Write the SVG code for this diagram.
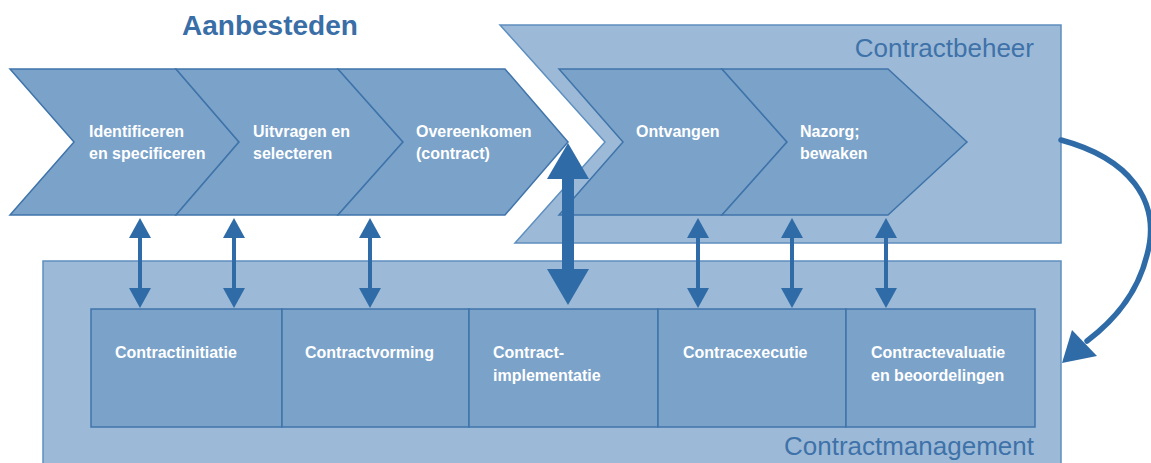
<svg xmlns="http://www.w3.org/2000/svg" width="1151" height="463" viewBox="0 0 1151 463">
  <style>
    .outer { fill: #9cbad8; stroke: #5f8fbf; stroke-width: 1.5; }
    .step { fill: #7ba2c9; stroke: #3f74aa; stroke-width: 1.5; stroke-linejoin: miter; }
    .lbl { font-family: "Liberation Sans", Arial, sans-serif; font-weight: bold; font-size: 16px; fill: #ffffff; }
    .area { font-family: "Liberation Sans", Arial, sans-serif; font-size: 26px; fill: #3f72a8; }
    .title { font-family: "Liberation Sans", Arial, sans-serif; font-weight: bold; font-size: 28px; fill: #3a6ea6; }
    .link { stroke: #2f6ca7; stroke-width: 4; fill: none; }
    .biglink { stroke: #2f6ca7; stroke-width: 12; fill: none; }
    .loop { stroke: #2f6ca7; stroke-width: 5.5; fill: none; stroke-linecap: round; }
  </style>
  <defs>
    <marker id="head" viewBox="0 0 20 22" markerWidth="20" markerHeight="22" refX="16" refY="11" orient="auto-start-reverse" markerUnits="userSpaceOnUse">
      <path d="M0,0 L20,11 L0,22 z" fill="#2f6ca7"/>
    </marker>
    <marker id="bighead" viewBox="0 0 36 42" markerWidth="36" markerHeight="42" refX="25" refY="21" orient="auto-start-reverse" markerUnits="userSpaceOnUse">
      <path d="M0,0 L36,21 L0,42 z" fill="#2f6ca7"/>
    </marker>
  </defs>

  <!-- lower band: contract management -->
  <g id="contractmanagement">
    <rect class="outer" x="43" y="261" width="1018" height="212"/>
    <text class="area" x="1034" y="455" text-anchor="end">Contractmanagement</text>
  </g>

  <!-- upper right band: contract administration -->
  <g id="contractbeheer">
    <polygon class="outer" points="500,25 1061,25 1061,243 515,243 605,142"/>
    <text class="area" x="1034" y="57" text-anchor="end">Contractbeheer</text>
  </g>

  <text class="title" x="182" y="35">Aanbesteden</text>

  <!-- process chevrons -->
  <g id="identificeren">
    <polygon class="step" points="10,69 176,69 239,142 176,215 10,215 74,142"/>
    <text class="lbl" x="89" y="137">Identificeren</text>
    <text class="lbl" x="89" y="159">en specificeren</text>
  </g>
  <g id="uitvragen">
    <polygon class="step" points="176,69 338,69 403,142 338,215 176,215 239,142"/>
    <text class="lbl" x="253" y="137">Uitvragen en</text>
    <text class="lbl" x="253" y="159">selecteren</text>
  </g>
  <g id="overeenkomen">
    <polygon class="step" points="338,69 505,69 568,142 505,215 338,215 403,142"/>
    <text class="lbl" x="416" y="137">Overeenkomen</text>
    <text class="lbl" x="416" y="159">(contract)</text>
  </g>
  <g id="ontvangen">
    <polygon class="step" points="559,69 722,69 787,142 722,215 559,215 623,142"/>
    <text class="lbl" x="636" y="137">Ontvangen</text>
  </g>
  <g id="nazorg">
    <polygon class="step" points="722,69 888,69 967,142 888,215 722,215 787,142"/>
    <text class="lbl" x="800" y="137">Nazorg;</text>
    <text class="lbl" x="800" y="159">bewaken</text>
  </g>

  <!-- management phases -->
  <g id="contractinitiatie">
    <rect class="step" x="91" y="309" width="191" height="118"/>
    <text class="lbl" x="115" y="358">Contractinitiatie</text>
  </g>
  <g id="contractvorming">
    <rect class="step" x="282" y="309" width="187" height="118"/>
    <text class="lbl" x="305" y="358">Contractvorming</text>
  </g>
  <g id="contractimplementatie">
    <rect class="step" x="469" y="309" width="189" height="118"/>
    <text class="lbl" x="493" y="358">Contract-</text>
    <text class="lbl" x="493" y="381">implementatie</text>
  </g>
  <g id="contracexecutie">
    <rect class="step" x="658" y="309" width="188" height="118"/>
    <text class="lbl" x="683" y="358">Contracexecutie</text>
  </g>
  <g id="contractevaluatie">
    <rect class="step" x="846" y="309" width="189" height="118"/>
    <text class="lbl" x="871" y="358">Contractevaluatie</text>
    <text class="lbl" x="871" y="381">en beoordelingen</text>
  </g>

  <!-- connectors -->
  <g id="connectors">
    <line class="link" x1="140" y1="222" x2="140" y2="304" marker-start="url(#head)" marker-end="url(#head)"/>
    <line class="link" x1="234" y1="222" x2="234" y2="304" marker-start="url(#head)" marker-end="url(#head)"/>
    <line class="link" x1="370" y1="222" x2="370" y2="304" marker-start="url(#head)" marker-end="url(#head)"/>
    <line class="link" x1="698" y1="222" x2="698" y2="304" marker-start="url(#head)" marker-end="url(#head)"/>
    <line class="link" x1="792" y1="222" x2="792" y2="304" marker-start="url(#head)" marker-end="url(#head)"/>
    <line class="link" x1="886" y1="222" x2="886" y2="304" marker-start="url(#head)" marker-end="url(#head)"/>
    <line class="biglink" x1="568" y1="154" x2="568" y2="294" marker-start="url(#bighead)" marker-end="url(#bighead)"/>
    <path class="loop" d="M1061,140 C1128,158 1162,200 1147,255 C1137,296 1112,322 1087,341"/>
    <polygon points="1062,363 1072,330 1097,356" fill="#2f6ca7"/>
  </g>
</svg>
